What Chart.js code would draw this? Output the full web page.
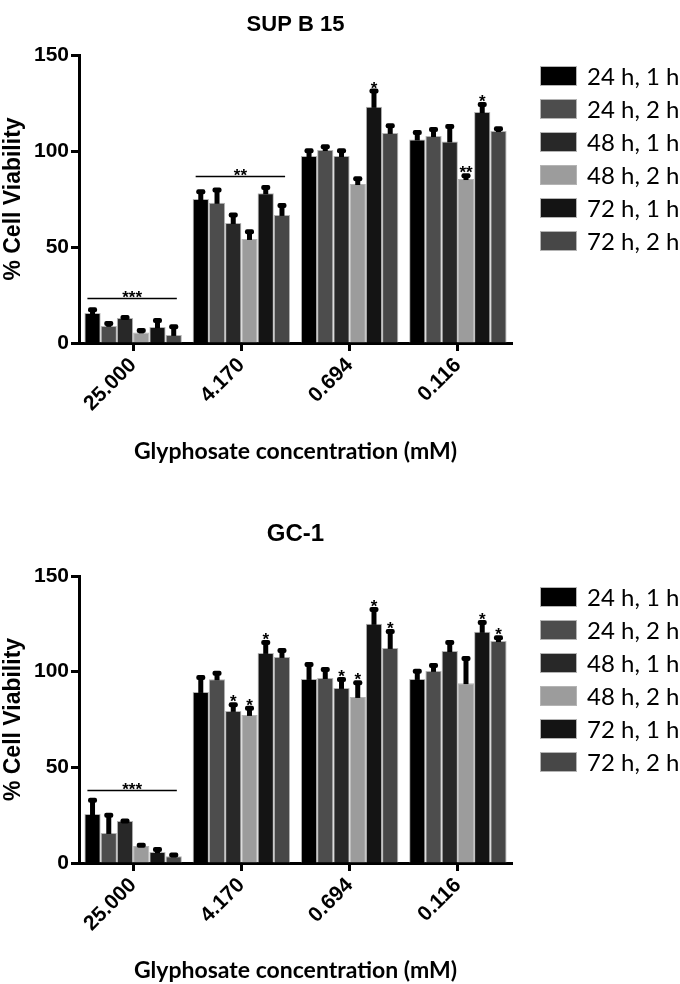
<!DOCTYPE html>
<html>
<head>
<meta charset="utf-8">
<script src="https://cdn.jsdelivr.net/npm/chart.js@4.4.0/dist/chart.umd.min.js"></script>
<style>
    html, body { margin: 0; padding: 0; background: #fff; }
    body { width: 680px; height: 984px; position: relative; overflow: hidden; }
    .panel { position: absolute; left: 0; }
    .legend { position: absolute; left: 540px; font-family: 'Lato', 'Open Sans', sans-serif; font-size: 24px; color: #000; }
    .legend-item { display: flex; align-items: center; height: 33px; white-space: nowrap; }
    .legend-box { display: inline-block; width: 37px; height: 20px; box-sizing: border-box; border: 1px solid #b4b4b4; margin-right: 10px; }
</style>
</head>
<body>
<div class="panel" style="top:0"><canvas id="chartSup" width="680" height="465"></canvas></div>
<div class="legend" id="legendSup" style="top:59px"></div>
<div class="panel" style="top:484px"><canvas id="chartGc" width="680" height="500"></canvas></div>
<div class="legend" id="legendGc" style="top:580px"></div>

<script>
// Categories and series
const concentrations = ['25.000', '4.170', '0.694', '0.116'];
const seriesLabels = ['24 h, 1 h', '24 h, 2 h', '48 h, 1 h', '48 h, 2 h', '72 h, 1 h', '72 h, 2 h'];
const seriesColors = ['#000000', '#4d4d4d', '#282828', '#9c9c9c', '#141414', '#474747'];
const yTicks = [0, 50, 100, 150];

// SUP B 15 - mean % viability per series (one value per concentration)
const supMeans = [
    [15.6, 75.0, 97.4, 106.0],
    [8.9, 73.0, 100.5, 107.8],
    [13.0, 62.5, 97.4, 105.0],
    [5.5, 54.2, 82.8, 85.4],
    [8.3, 78.0, 123.0, 120.3],
    [4.2, 66.7, 109.4, 110.4]
];
// SUP B 15 - error (upper bar only)
const supErrors = [
    [2.5, 4.5, 3.5, 4.4],
    [2.0, 7.5, 2.5, 4.2],
    [1.0, 5.0, 3.5, 8.5],
    [1.8, 4.5, 3.5, 2.5],
    [4.2, 3.8, 9.0, 4.7],
    [5.0, 5.7, 4.5, 2.0]
];
const supStars = [
    ['', '', '', ''],
    ['', '', '', ''],
    ['', '', '', ''],
    ['', '', '', '**'],
    ['', '', '*', '*'],
    ['', '', '', '']
];
const supBrackets = [
    { group: 0, value: 23.5, text: '***' },
    { group: 1, value: 87, text: '**' }
];

// GC-1
const gcMeans = [
    [25.6, 89.4, 96.2, 96.2],
    [15.7, 96.0, 96.7, 100.4],
    [22.0, 79.5, 91.5, 110.8],
    [8.9, 77.4, 86.8, 94.0],
    [5.7, 109.8, 125.0, 120.8],
    [3.5, 107.7, 112.4, 116.0]
];
const gcErrors = [
    [8.0, 8.3, 8.3, 4.8],
    [10.0, 4.0, 5.2, 3.6],
    [0.8, 4.0, 5.2, 5.2],
    [1.2, 4.2, 8.2, 13.7],
    [2.2, 6.2, 8.3, 5.7],
    [1.5, 4.1, 9.4, 2.5]
];
const gcStars = [
    ['', '', '', ''],
    ['', '', '', ''],
    ['', '*', '*', ''],
    ['', '*', '*', ''],
    ['', '*', '*', '*'],
    ['', '', '*', '*']
];
const gcBrackets = [
    { group: 0, value: 38, text: '***' }
];

const boldSans = '"Liberation Sans", Arial, sans-serif';

// Error bars, significance stars and brackets
const errorBarsPlugin = {
    id: 'errorBars',
    afterDatasetsDraw(chart, args, opts) {
        const ctx = chart.ctx;
        const yScale = chart.scales.y;
        ctx.save();
        ctx.fillStyle = '#000';
        ctx.textAlign = 'center';
        ctx.textBaseline = 'alphabetic';
        chart.data.datasets.forEach((ds, i) => {
            const meta = chart.getDatasetMeta(i);
            meta.data.forEach((bar, j) => {
                const yMean = yScale.getPixelForValue(ds.data[j]);
                const yTop = yScale.getPixelForValue(ds.data[j] + ds.errors[j]);
                ctx.fillRect(bar.x - 2.5, yTop, 5, yMean - yTop + 1);
                ctx.beginPath();
                ctx.roundRect(bar.x - 4.5, yTop - 1, 9, 5, 2);
                ctx.fill();
                if (ds.stars[j]) {
                    ctx.font = 'bold 17px ' + boldSans;
                    ctx.fillText(ds.stars[j], bar.x, yTop + 4);
                }
            });
        });

        const first = chart.getDatasetMeta(0);
        const last = chart.getDatasetMeta(chart.data.datasets.length - 1);
        (opts.brackets || []).forEach(b => {
            const b0 = first.data[b.group];
            const b1 = last.data[b.group];
            const x0 = b0.x - b0.width / 2 + 3;
            const x1 = b1.x + b1.width / 2 - 5;
            const y = Math.round(yScale.getPixelForValue(b.value)) + 0.5;
            ctx.lineWidth = 1.5;
            ctx.strokeStyle = '#000';
            ctx.beginPath();
            ctx.moveTo(x0, y);
            ctx.lineTo(x1, y);
            ctx.stroke();
            ctx.font = 'bold 17px ' + boldSans;
            ctx.fillText(b.text, (x0 + x1) / 2, y + 4);
        });
        ctx.restore();
    }
};

// Legend built as html from the datasets
const htmlLegendPlugin = {
    id: 'htmlLegend',
    afterUpdate(chart, args, opts) {
        const box = document.getElementById(opts.containerID);
        if (!box) return;
        box.innerHTML = '';
        chart.data.datasets.forEach(ds => {
            const row = document.createElement('div');
            row.className = 'legend-item';
            const swatch = document.createElement('span');
            swatch.className = 'legend-box';
            swatch.style.background = ds.backgroundColor;
            const text = document.createElement('span');
            text.textContent = ds.label;
            row.appendChild(swatch);
            row.appendChild(text);
            box.appendChild(row);
        });
    }
};

function createChart(canvasId, legendId, title, cfg) {
    const datasets = seriesLabels.map((label, i) => ({
        label: label,
        data: cfg.means[i],
        errors: cfg.errors[i],
        stars: cfg.stars[i],
        backgroundColor: seriesColors[i],
        borderColor: '#b4b4b4',
        borderWidth: 1,
        categoryPercentage: 0.9,
        barPercentage: 1.0
    }));

    return new Chart(document.getElementById(canvasId), {
        type: 'bar',
        data: { labels: concentrations, datasets: datasets },
        plugins: [errorBarsPlugin, htmlLegendPlugin],
        options: {
            responsive: false,
            animation: false,
            layout: { padding: { left: 0, right: 168, top: 0, bottom: 0 } },
            plugins: {
                legend: { display: false },
                tooltip: { enabled: false },
                htmlLegend: { containerID: legendId },
                errorBars: { brackets: cfg.brackets },
                title: {
                    display: true,
                    text: title,
                    fullSize: false,
                    color: '#000',
                    font: { family: boldSans, size: cfg.titleSize, weight: 'bold', lineHeight: 1.2 },
                    padding: cfg.titlePadding
                }
            },
            scales: {
                x: {
                    grid: { display: true, drawOnChartArea: false, offset: false, tickLength: 8, tickWidth: 3, tickColor: '#000' },
                    border: { display: true, color: '#000', width: 3 },
                    ticks: {
                        color: '#000',
                        autoSkip: false,
                        minRotation: 45,
                        maxRotation: 45,
                        padding: 2,
                        font: { family: boldSans, size: 21, weight: 'bold' }
                    },
                    title: {
                        display: true,
                        text: 'Glyphosate concentration (mM)',
                        color: '#000',
                        padding: 0,
                        font: { family: 'Lato, "Open Sans", sans-serif', size: 23, weight: 'bold', lineHeight: 1.2 }
                    },
                    afterFit(scale) { scale.height = cfg.xAxisHeight; }
                },
                y: {
                    min: 0,
                    max: 150,
                    afterBuildTicks(scale) { scale.ticks = yTicks.map(v => ({ value: v })); },
                    grid: { display: true, drawOnChartArea: false, tickLength: 8, tickWidth: 3, tickColor: '#000' },
                    border: { display: true, color: '#000', width: 3 },
                    ticks: {
                        color: '#000',
                        padding: 2,
                        font: { family: boldSans, size: 21, weight: 'bold' }
                    },
                    title: {
                        display: true,
                        text: '% Cell Viability',
                        color: '#000',
                        padding: 0,
                        font: { family: boldSans, size: 23, weight: 'bold', lineHeight: 1.2 }
                    },
                    afterFit(scale) { scale.width = 79; }
                }
            }
        }
    });
}

createChart('chartSup', 'legendSup', 'SUP B 15', {
    means: supMeans, errors: supErrors, stars: supStars, brackets: supBrackets,
    titleSize: 22, titlePadding: { top: 12, bottom: 16.6 }, xAxisHeight: 122
});

createChart('chartGc', 'legendGc', 'GC-1', {
    means: gcMeans, errors: gcErrors, stars: gcStars, brackets: gcBrackets,
    titleSize: 24, titlePadding: { top: 35.6, bottom: 27.6 }, xAxisHeight: 121
});
</script>
</body>
</html>
